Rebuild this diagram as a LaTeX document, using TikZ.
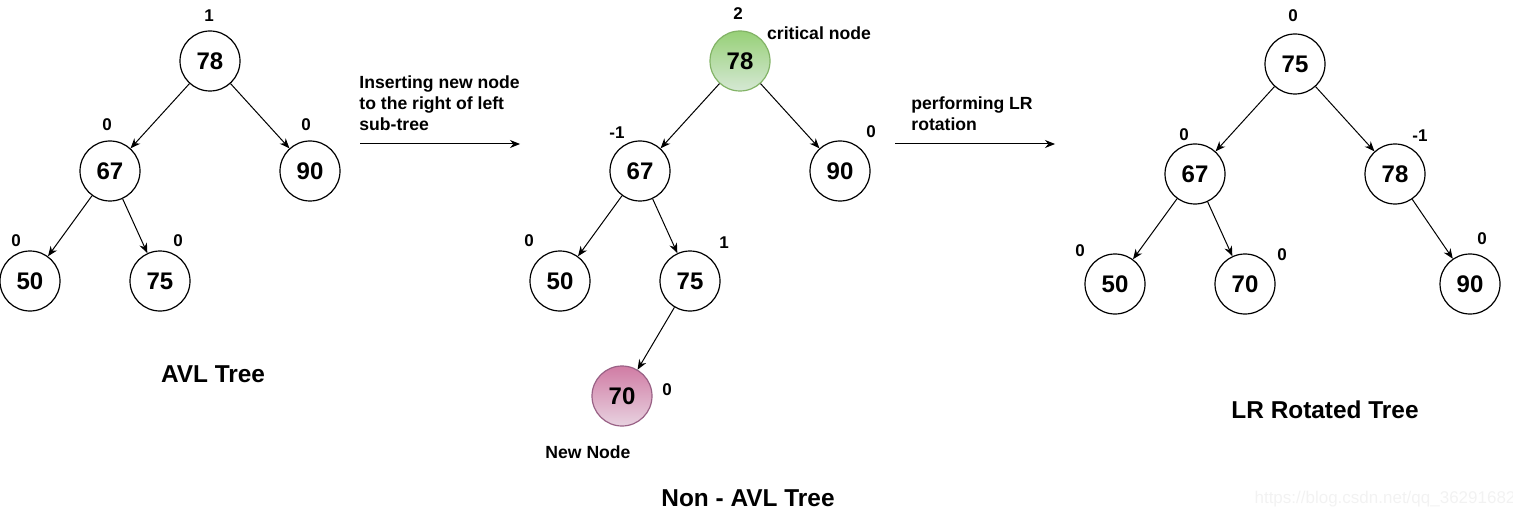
\documentclass[tikz,border=0pt]{standalone}
\usepackage{fontspec}
\setmainfont{Liberation Sans}
\usetikzlibrary{arrows.meta}
\definecolor{critTop}{HTML}{97D077}
\definecolor{critBot}{HTML}{D5E8D4}
\definecolor{critLine}{HTML}{82B366}
\definecolor{newTop}{HTML}{D07CA4}
\definecolor{newBot}{HTML}{E8D2E0}
\definecolor{newLine}{HTML}{996185}
\begin{document}
\begin{tikzpicture}
        [x=0.5pt,y=-0.5pt,>={Stealth[length=5pt,width=4pt]},
         every node/.style={font=\bfseries\fontsize{8.8}{10.5}\selectfont},
         avl/.style={circle,draw,line width=0.6pt,minimum size=30pt,inner sep=0pt,
                     font=\bfseries\fontsize{12}{14}\selectfont},
         bal/.style={inner sep=1pt,font=\bfseries\fontsize{8.5}{10}\selectfont},
         title/.style={font=\bfseries\fontsize{12.2}{14}\selectfont},
         edge/.style={->,line width=0.5pt}]
        \useasboundingbox (0,0) rectangle (1513,518);

        % AVL tree
        \node[avl] (a78) at (210,61)  {78};
        \node[avl] (a67) at (110,171) {67};
        \node[avl] (a90) at (310,171) {90};
        \node[avl] (a50) at (30,281)  {50};
        \node[avl] (a75) at (160,281) {75};
        \node[bal] (ba78) at (209,16)  {1};
        \node[bal] (ba67) at (107,125) {0};
        \node[bal] (ba90) at (306,125) {0};
        \node[bal] (ba50) at (16,241)  {0};
        \node[bal] (ba75) at (178,241) {0};
        \node[title] (ta) at (213,374) {AVL Tree};

        % non-AVL tree
        \node[avl,draw=critLine,top color=critTop,bottom color=critBot] (b78) at (740,61) {78};
        \node[avl] (b67) at (640,171) {67};
        \node[avl] (b90) at (840,171) {90};
        \node[avl] (b50) at (560,281) {50};
        \node[avl] (b75) at (690,281) {75};
        \node[avl,draw=newLine,top color=newTop,bottom color=newBot] (b70) at (622,396) {70};
        \node[bal] (bb78) at (738,14)  {2};
        \node[bal] (bb67) at (617,133) {-1};
        \node[bal] (bb90) at (871,132) {0};
        \node[bal] (bb50) at (529,241) {0};
        \node[bal] (bb75) at (724,243) {1};
        \node[bal] (bb70) at (667,390) {0};
        \node (crit) at (819,33)  {critical node};
        \node (newn) at (588,452) {New Node};
        \node[title] (tb) at (748,498) {Non - AVL Tree};

        % LR rotated tree
        \node[avl] (c75) at (1295,64)  {75};
        \node[avl] (c67) at (1195,174) {67};
        \node[avl] (c78) at (1395,174) {78};
        \node[avl] (c50) at (1115,284) {50};
        \node[avl] (c70) at (1245,284) {70};
        \node[avl] (c90) at (1470,284) {90};
        \node[bal] (bc75) at (1293,16)  {0};
        \node[bal] (bc67) at (1184,135) {0};
        \node[bal] (bc78) at (1420,136) {-1};
        \node[bal] (bc50) at (1080,251) {0};
        \node[bal] (bc70) at (1282,255) {0};
        \node[bal] (bc90) at (1482,239) {0};
        \node[title] (tc) at (1325,410) {LR Rotated Tree};

        \foreach \from/\to in {a78/a67,a78/a90,a67/a50,a67/a75,
                               b78/b67,b78/b90,b67/b50,b67/b75,b75/b70,
                               c75/c67,c75/c78,c67/c50,c67/c70,c78/c90}
        \draw[edge] (\from) -- (\to);

        % steps between the trees
        \coordinate (s1) at (360,144);
        \coordinate (e1) at (520,144);
        \coordinate (s2) at (895,144);
        \coordinate (e2) at (1055,144);
        \draw[edge] (s1) -- (e1);
        \draw[edge] (s2) -- (e2);
        \node[anchor=south west,align=left,inner sep=0pt] (ins) at (359,131)
             {Inserting new node\\to the right of left\\sub-tree};
        \node[anchor=south west,align=left,inner sep=0pt] (rot) at (911,131)
             {performing LR\\rotation};

        \node[font=\fontsize{8.5}{10}\selectfont,text=black!5] (mark) at (1385,499)
             {https://blog.csdn.net/qq\_36291682};
\end{tikzpicture}
\end{document}
